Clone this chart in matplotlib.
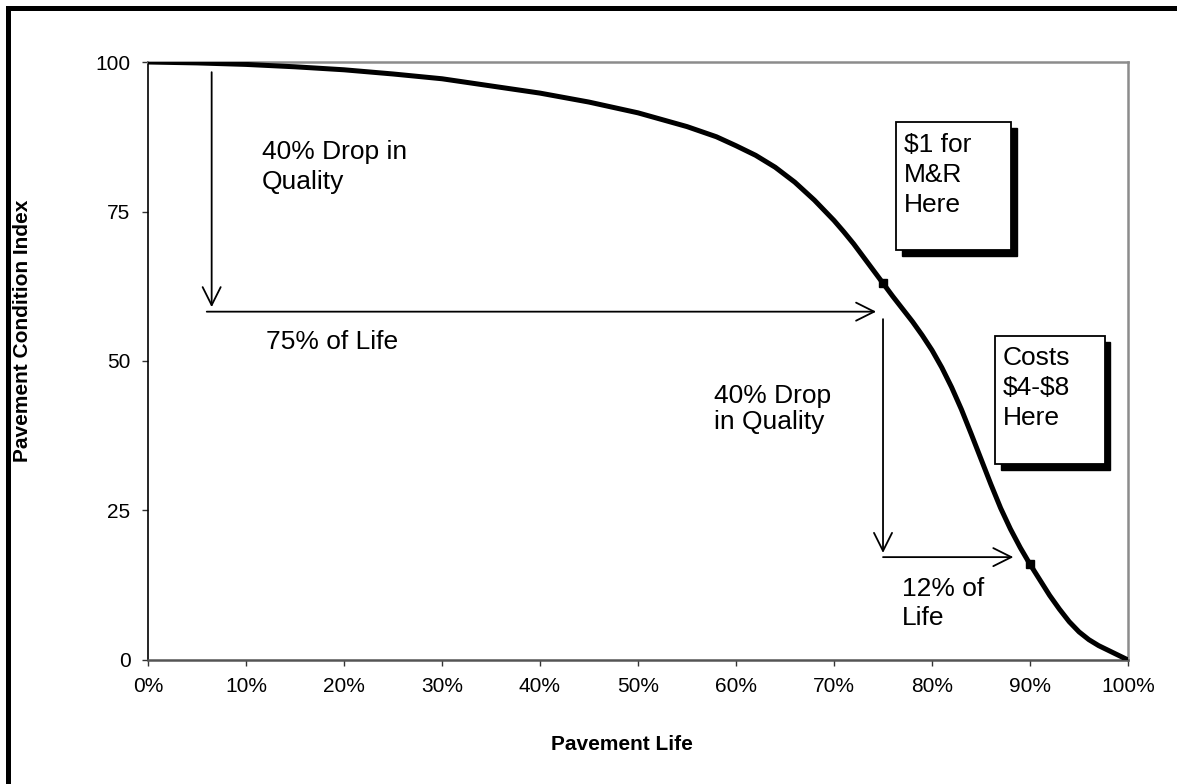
import matplotlib
matplotlib.use("Agg")
import matplotlib.pyplot as plt
from matplotlib.patches import Rectangle
from matplotlib.lines import Line2D

plt.rcParams['font.family'] = ['Liberation Sans', 'DejaVu Sans']

# deterioration curve: pavement life (%) vs condition index
life_pct = [0, 5, 10, 15, 20, 25, 30, 35, 40, 45, 50, 55, 58, 60, 62, 64,
            66, 68, 70, 71, 72, 73, 74, 75, 76, 77, 78, 79, 80, 81, 82, 83,
            84, 85, 86, 87, 88, 89, 90, 91, 92, 93, 94, 95, 96, 97, 98, 99, 100]
pci = [100, 99.85, 99.6, 99.2, 98.7, 98.0, 97.2, 96.0, 94.8, 93.3, 91.5, 89.2,
       87.5, 86.0, 84.4, 82.4, 79.9, 76.9, 73.5, 71.6, 69.6, 67.4, 65.2, 63.0,
       60.8, 58.7, 56.6, 54.3, 51.8, 48.9, 45.6, 41.9, 37.8, 33.6, 29.4, 25.4,
       21.9, 18.8, 16.0, 13.4, 10.8, 8.5, 6.4, 4.7, 3.4, 2.4, 1.6, 0.8, 0]

marked_life = [75, 90]
marked_pci = [63.0, 16.0]

x_ticks = [0, 10, 20, 30, 40, 50, 60, 70, 80, 90, 100]
x_tick_labels = [f"{t}%" for t in x_ticks]
y_ticks = [0, 25, 50, 75, 100]

fig = plt.figure(figsize=(11.77, 7.84), dpi=100)
ax = fig.add_axes([0.1257, 0.1582, 0.8327, 0.7627])

ax.plot(life_pct, pci, color='black', lw=3.6, solid_capstyle='round',
        solid_joinstyle='round', zorder=3)
ax.plot(marked_life, marked_pci, ls='none', marker='s', ms=6, color='black', zorder=4)

ax.set_xlim(0, 100)
ax.set_ylim(0, 100)
ax.set_xticks(x_ticks)
ax.set_xticklabels(x_tick_labels)
ax.set_yticks(y_ticks)
ax.tick_params(labelsize=15, length=4.5, width=1, pad=8, color='#333333')

ax.spines['left'].set_color('black')
ax.spines['left'].set_linewidth(1.2)
ax.spines['bottom'].set_color('#555555')
ax.spines['bottom'].set_linewidth(1.8)
for side in ('top', 'right'):
    ax.spines[side].set_color('#8c8c8c')
    ax.spines[side].set_linewidth(1.8)

ax.set_xlabel("Pavement Life", fontsize=15, fontweight='bold')
ax.xaxis.set_label_coords(0.484, -0.126)
ax.set_ylabel("Pavement Condition Index", fontsize=15, fontweight='bold')
ax.yaxis.set_label_coords(-0.118, 0.55)

# arrows
arrow_kw = dict(arrowstyle='->,head_length=13,head_width=6.5', color='black',
                lw=1.3, shrinkA=0, shrinkB=0, mutation_scale=1)


def arrow(x0, y0, x1, y1):
    ax.annotate('', xy=(x1, y1), xytext=(x0, y0), arrowprops=arrow_kw, zorder=2)


arrow(6.5, 98.3, 6.5, 59.0)
arrow(6.0, 58.25, 74.3, 58.25)
arrow(75.0, 57.0, 75.0, 17.9)
arrow(75.0, 17.2, 88.3, 17.2)

txt = dict(fontsize=19, ha='left', va='center')
ax.text(11.6, 82.5, "40% Drop in\nQuality", linespacing=1.33, **txt)
ax.text(12.0, 53.2, "75% of Life", **txt)
ax.text(57.8, 42.0, "40% Drop\nin Quality", linespacing=1.12, **txt)
ax.text(76.9, 9.4, "12% of\nLife", linespacing=1.24, **txt)

# callout boxes with drop shadows
dx, dy = 0.61, 1.0
for (x0, x1, y0, y1, label, ty) in [
    (76.3, 88.1, 68.5, 90.0, "$1 for\nM&R\nHere", 81.1),
    (86.4, 97.6, 32.8, 54.2, "Costs\n$4-$8\nHere", 45.5),
]:
    ax.add_patch(Rectangle((x0 + dx, y0 - dy), x1 - x0, y1 - y0,
                           facecolor='black', edgecolor='black', zorder=5))
    ax.add_patch(Rectangle((x0, y0), x1 - x0, y1 - y0,
                           facecolor='white', edgecolor='black', lw=1.3, zorder=6))
    ax.text(x0 + 0.8, ty, label.replace('$', r'\$'), linespacing=1.3, zorder=7, **txt)

# heavy frame on top and left edges
fig.add_artist(Line2D([0.0064, 1.0], [0.9898, 0.9898], color='black', lw=3.6,
                      transform=fig.transFigure))
fig.add_artist(Line2D([0.0064, 0.0064], [0.0, 0.9898], color='black', lw=3.6,
                      transform=fig.transFigure))

fig.savefig("out.png", dpi=100)
